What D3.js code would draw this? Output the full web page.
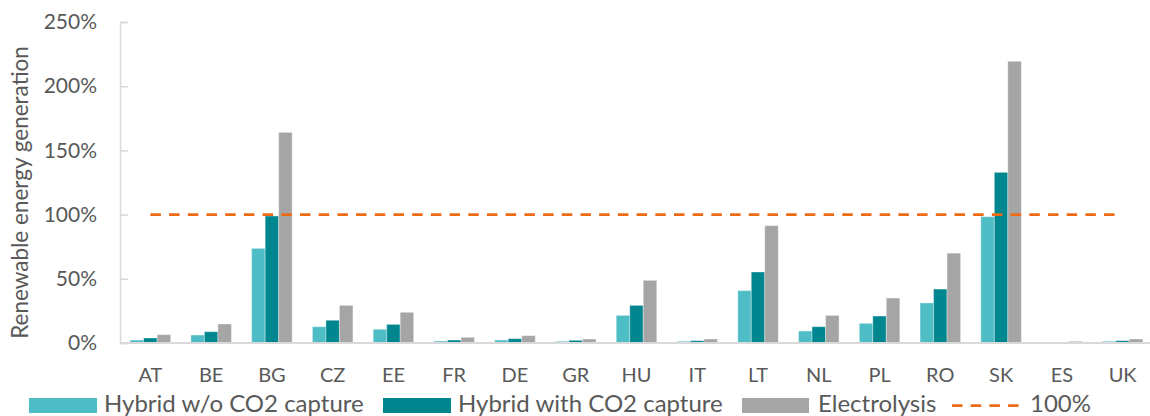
<!DOCTYPE html>
<html>
<head>
<meta charset="utf-8">
<script src="https://cdn.jsdelivr.net/npm/d3@7"></script>
<style>
  html, body { margin: 0; padding: 0; background: #ffffff; }
  svg { display: block; }
  text { font-family: Lato, "Open Sans", sans-serif; fill: #595959; }
</style>
</head>
<body>
<svg id="chart" width="1150" height="416"></svg>
<script>
// ---- data (values in %) ----
const categories = ["AT","BE","BG","CZ","EE","FR","DE","GR","HU","IT","LT","NL","PL","RO","SK","ES","UK"];
const hybridNoCapture = [2.3, 6.2, 73.7, 12.7, 10.7, 1.5, 2.3, 1.3, 21.5, 1.3, 40.8, 9.3, 15.3, 31.2, 98.4, 0.3, 1.3];
const hybridCapture   = [3.9, 8.8, 98.9, 17.7, 14.5, 2.3, 3.4, 2.1, 29.3, 1.8, 55.3, 12.7, 21.0, 42.0, 132.9, 0.5, 1.8];
const electrolysis    = [6.5, 14.8, 164.0, 29.3, 23.9, 4.4, 5.7, 3.1, 48.8, 3.1, 91.4, 21.5, 35.0, 70.0, 219.4, 1.3, 3.1];
const referenceLevel  = 100;
const yTicks = [0, 50, 100, 150, 200, 250];
const seriesNames = ["Hybrid w/o CO2 capture", "Hybrid with CO2 capture", "Electrolysis"];
const refName = "100%";
const yTitle = "Renewable energy generation";

const colors = ["#4FBDC6", "#00868F", "#A5A5A5"];
const refColor = "#EE6B15";
const axisColor = "#D9D9D9";

const series = [hybridNoCapture, hybridCapture, electrolysis];

const svg = d3.select("#chart");
const plotLeft = 120, plotRight = 1153, plotTop = 22, plotBottom = 343;

const x = d3.scaleBand().domain(categories).range([plotLeft, plotRight]).paddingInner(1/3).paddingOuter(1/6);
const xs = d3.scaleBand().domain(d3.range(series.length)).range([0, x.bandwidth()]);
const y = d3.scaleLinear().domain([0, 250]).range([plotBottom, plotTop]);

// y axis
const yAxis = d3.axisLeft(y).tickValues(yTicks).tickSize(-8).tickPadding(23).tickFormat(d => d + "%");
const gy = svg.append("g").attr("transform", `translate(${plotLeft},0)`).call(yAxis);
gy.select(".domain").attr("stroke", axisColor).attr("stroke-width", 1.5);
gy.selectAll(".tick line").attr("stroke", axisColor).attr("stroke-width", 1.5);
gy.selectAll(".tick text").attr("font-size", 21).attr("fill", "#595959").attr("font-family", "Lato, sans-serif");

// bars
categories.forEach((c, i) => {
  series.forEach((s, k) => {
    svg.append("rect")
      .attr("x", x(c) + xs(k))
      .attr("y", y(s[i]))
      .attr("width", xs.bandwidth())
      .attr("height", plotBottom - y(s[i]))
      .attr("fill", colors[k])
      .attr("stroke", "#ffffff").attr("stroke-opacity", 0.35).attr("stroke-width", 1);
  });
});

// x axis baseline + labels
const xAxis = d3.axisBottom(x).tickSize(0).tickPadding(0);
const gx = svg.append("g").attr("transform", `translate(0,${plotBottom})`).call(xAxis);
gx.select(".domain").remove();
svg.append("line").attr("x1", plotLeft).attr("x2", 1150).attr("y1", plotBottom).attr("y2", plotBottom)
  .attr("stroke", axisColor).attr("stroke-width", 2);
gx.selectAll(".tick text").attr("font-size", 20).attr("fill", "#595959")
  .attr("font-family", "Lato, sans-serif").attr("dy", null).attr("y", 39);

// 100% reference line
const line = d3.line().x(d => x(d) + x.bandwidth() / 2).y(() => y(referenceLevel));
svg.append("path").datum(categories).attr("d", line)
  .attr("fill", "none").attr("stroke", refColor).attr("stroke-width", 2.75)
  .attr("stroke-dasharray", "10.5,8.2");

// y title
svg.append("text").attr("transform", `translate(28,${(32 + 353) / 2}) rotate(-90)`)
  .attr("text-anchor", "middle").attr("font-size", 22.5).text(yTitle);

// legend
const legendY = 405.5;
const legendItems = [
  {type: "rect", color: colors[0], name: seriesNames[0], sx: 29, sw: 68, tx: 104},
  {type: "rect", color: colors[1], name: seriesNames[1], sx: 383, sw: 68, tx: 458},
  {type: "rect", color: colors[2], name: seriesNames[2], sx: 742, sw: 67, tx: 818},
  {type: "line", color: refColor, name: refName, sx: 952, sw: 67, tx: 1030}
];
legendItems.forEach(it => {
  if (it.type === "rect") {
    svg.append("rect").attr("x", it.sx).attr("y", legendY - 7.5).attr("width", it.sw).attr("height", 15).attr("fill", it.color);
  } else {
    svg.append("line").attr("x1", it.sx).attr("x2", it.sx + it.sw).attr("y1", legendY).attr("y2", legendY)
      .attr("stroke", it.color).attr("stroke-width", 2.75).attr("stroke-dasharray", "10.5,8.2");
  }
  svg.append("text").attr("x", it.tx).attr("y", 411.5).attr("font-size", 24).text(it.name);
});
</script>
</body>
</html>
